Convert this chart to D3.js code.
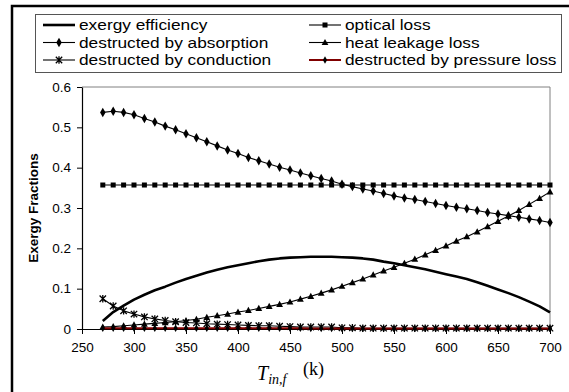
<!DOCTYPE html>
<html><head><meta charset="utf-8">
<script src="https://cdn.jsdelivr.net/npm/d3@7"></script>
<style>html,body{margin:0;padding:0;background:#fff;} svg{display:block;}</style>
</head><body>
<svg id="chart" width="569" height="392"></svg>
<script>
const temps = d3.range(270, 701, 10);
const xTicks = [250,300,350,400,450,500,550,600,650,700];
const yTicks = [0,0.1,0.2,0.3,0.4,0.5,0.6];
const seriesNames = ["exergy efficiency","destructed by absorption","destructed by conduction","optical loss","heat leakage loss","destructed by pressure loss"];

const efficiency = [0.020,0.042,0.058,0.073,0.085,0.096,0.105,0.115,0.124,0.132,0.140,0.147,0.153,0.158,0.163,0.168,0.172,0.175,0.177,0.178,0.179,0.179,0.179,0.178,0.177,0.175,0.172,0.167,0.163,0.158,0.153,0.148,0.142,0.136,0.130,0.124,0.116,0.107,0.098,0.089,0.079,0.068,0.056,0.041];
const absorption = [0.537,0.540,0.537,0.531,0.522,0.513,0.503,0.494,0.484,0.474,0.464,0.454,0.444,0.435,0.425,0.417,0.409,0.401,0.394,0.387,0.380,0.373,0.367,0.359,0.353,0.347,0.342,0.336,0.330,0.325,0.321,0.316,0.311,0.306,0.302,0.298,0.294,0.289,0.285,0.281,0.277,0.273,0.269,0.264];
const conduction = [0.075,0.057,0.045,0.037,0.030,0.025,0.021,0.018,0.016,0.015,0.013,0.012,0.011,0.010,0.009,0.008,0.008,0.007,0.006,0.005,0.005,0.005,0.005,0.003,0.003,0.002,0.002,0.002,0.002,0.002,0.002,0.002,0.002,0.002,0.002,0.002,0.002,0.002,0.002,0.002,0.002,0.002,0.002,0.002];
const optical = [0.357,0.357,0.357,0.357,0.357,0.357,0.357,0.357,0.357,0.357,0.357,0.357,0.357,0.357,0.357,0.357,0.357,0.357,0.357,0.357,0.357,0.357,0.357,0.357,0.357,0.357,0.357,0.357,0.357,0.357,0.357,0.357,0.357,0.357,0.357,0.357,0.357,0.357,0.357,0.357,0.357,0.357,0.357,0.357];
const heatLeakage = [0.005,0.006,0.008,0.010,0.012,0.014,0.016,0.018,0.021,0.024,0.029,0.033,0.037,0.042,0.046,0.051,0.056,0.061,0.067,0.074,0.081,0.089,0.097,0.106,0.115,0.124,0.134,0.144,0.153,0.163,0.173,0.184,0.195,0.206,0.218,0.229,0.241,0.254,0.267,0.280,0.294,0.309,0.324,0.340];
const pressure = [0.002,0.002,0.002,0.002,0.002,0.002,0.002,0.002,0.002,0.002,0.002,0.002,0.002,0.002,0.002,0.002,0.002,0.002,0.002,0.002,0.001,0.001,0.001,0.001,0.001,0.001,0.001,0.001,0.001,0.001,0.001,0.001,0.001,0.001,0.001,0.001,0.001,0.001,0.001,0.001,0.001,0.001,0.001,0.001];

const svg = d3.select("#chart");
const FONT = "'Liberation Sans', Arial, sans-serif";
const pLeft = 82, pRight = 550, pTop = 87, pBottom = 329;
const x = d3.scaleLinear().domain([250,700]).range([pLeft,pRight]);
const y = d3.scaleLinear().domain([0,0.6]).range([pBottom,pTop]);

// outer frame (extends off-canvas right/bottom)
svg.append("rect").attr("x",12).attr("y",6).attr("width",600).attr("height",420)
  .attr("fill","none").attr("stroke","#000").attr("stroke-width",2.5);

// plot area border (top/right grey)
svg.append("path").attr("d",`M${pLeft},${pTop}H${pRight}V${pBottom}`)
  .attr("fill","none").attr("stroke","#808080").attr("stroke-width",1);

// axes
const xAxis = d3.axisBottom(x).tickValues(xTicks).tickSize(5).tickSizeOuter(0).tickPadding(8);
const gx = svg.append("g").attr("transform",`translate(0,${pBottom})`).call(xAxis);
const yAxis = d3.axisLeft(y).tickValues(yTicks).tickSize(5).tickSizeOuter(0).tickPadding(6)
  .tickFormat(d => d === 0 ? "0" : d3.format(".1f")(d));
const gy = svg.append("g").attr("transform",`translate(${pLeft},0)`).call(yAxis);
[gx,gy].forEach(g => {
  g.selectAll("path.domain").attr("stroke","#000").attr("stroke-width",1.2);
  g.selectAll("line").attr("stroke","#000");
  g.selectAll("text").attr("font-family",FONT).attr("font-size",13.5).attr("fill","#000");
});

function marker(g, type, cx, cy, color) {
  if (type === "diamond") {
    g.append("path").attr("d", d3.symbol(d3.symbolDiamond, 26)()).attr("transform",`translate(${cx},${cy})`).attr("fill",color);
  } else if (type === "square") {
    g.append("rect").attr("x",cx-2.5).attr("y",cy-2.5).attr("width",5).attr("height",5).attr("fill",color);
  } else if (type === "triangle") {
    g.append("path").attr("d",`M${cx},${cy-3.6}L${cx+3.4},${cy+2.6}L${cx-3.4},${cy+2.6}Z`).attr("fill",color);
  } else if (type === "star") {
    const s = 3.2;
    g.append("path").attr("d",`M${cx-s},${cy-s}L${cx+s},${cy+s}M${cx-s},${cy+s}L${cx+s},${cy-s}M${cx},${cy-s-0.5}L${cx},${cy+s+0.5}`)
      .attr("stroke",color).attr("stroke-width",1.3).attr("fill","none");
  } else if (type === "smalldiamond") {
    g.append("path").attr("d", d3.symbol(d3.symbolDiamond, 16)()).attr("transform",`translate(${cx},${cy})`).attr("fill",color);
  }
}

const series = [
  {name: seriesNames[0], vals: efficiency, stroke:"#000", width:2.6, marker:null},
  {name: seriesNames[1], vals: absorption, stroke:"#000", width:1.1, marker:"diamond"},
  {name: seriesNames[3], vals: optical, stroke:"#000", width:1.1, marker:"square"},
  {name: seriesNames[4], vals: heatLeakage, stroke:"#000", width:1.1, marker:"triangle"},
  {name: seriesNames[2], vals: conduction, stroke:"#000", width:1.1, marker:"star"},
  {name: seriesNames[5], vals: pressure, stroke:"#800000", width:2, marker:"smalldiamond"}
];

const line = d3.line().x(d => x(d[0])).y(d => y(d[1]));
series.forEach(s => {
  const pts = temps.map((t,i) => [t, s.vals[i]]);
  const g = svg.append("g");
  g.append("path").attr("d", line(pts)).attr("fill","none").attr("stroke",s.stroke)
    .attr("stroke-width",s.width).attr("stroke-linejoin","round");
  if (s.marker) pts.forEach(p => marker(g, s.marker, x(p[0]), y(p[1]), "#000"));
});

// legend
svg.append("rect").attr("x",35.5).attr("y",14.5).attr("width",526).attr("height",58)
  .attr("fill","#fff").attr("stroke","#555").attr("stroke-width",1);
const legendItems = [
  {name: seriesNames[0], col:0, row:0, s: series[0]},
  {name: seriesNames[1], col:0, row:1, s: series[1]},
  {name: seriesNames[2], col:0, row:2, s: series[4]},
  {name: seriesNames[3], col:1, row:0, s: series[2]},
  {name: seriesNames[4], col:1, row:1, s: series[3]},
  {name: seriesNames[5], col:1, row:2, s: series[5]}
];
const colX = [43, 309];
const legFont = 15.4, stretch = 17.3 / 15.4;
legendItems.forEach(it => {
  const ly = 25 + it.row * 17.5;
  const lx = colX[it.col];
  const g = svg.append("g");
  g.append("line").attr("x1",lx).attr("x2",lx+32).attr("y1",ly).attr("y2",ly)
    .attr("stroke",it.s.stroke).attr("stroke-width",it.s.width);
  if (it.s.marker) marker(g, it.s.marker, lx+16, ly, "#000");
  const t = g.append("text").attr("x",lx+36).attr("y",ly).attr("dy","0.35em")
    .attr("font-family",FONT).attr("font-size",legFont).attr("fill","#000").text(it.name);
  const w = t.node().getComputedTextLength();
  t.attr("textLength", w * stretch).attr("lengthAdjust","spacingAndGlyphs");
});

// y axis title
svg.append("text").attr("transform",`translate(38,${(pTop+pBottom)/2}) rotate(-90)`)
  .attr("text-anchor","middle").attr("font-family",FONT).attr("font-size",13.5)
  .attr("font-weight","bold").attr("fill","#000").text("Exergy Fractions");

// x axis title
const xt = svg.append("text").attr("x",257).attr("y",380)
  .attr("font-family","'Liberation Serif', 'Times New Roman', serif").attr("fill","#000");
xt.append("tspan").attr("font-style","italic").attr("font-size",20).text("T");
xt.append("tspan").attr("font-style","italic").attr("font-size",14).attr("dy",4).text("in,f");
svg.append("text").attr("x",303).attr("y",375)
  .attr("font-family","'Liberation Serif', 'Times New Roman', serif").attr("font-size",18)
  .attr("fill","#000").text("(k)");
</script>
</body></html>
